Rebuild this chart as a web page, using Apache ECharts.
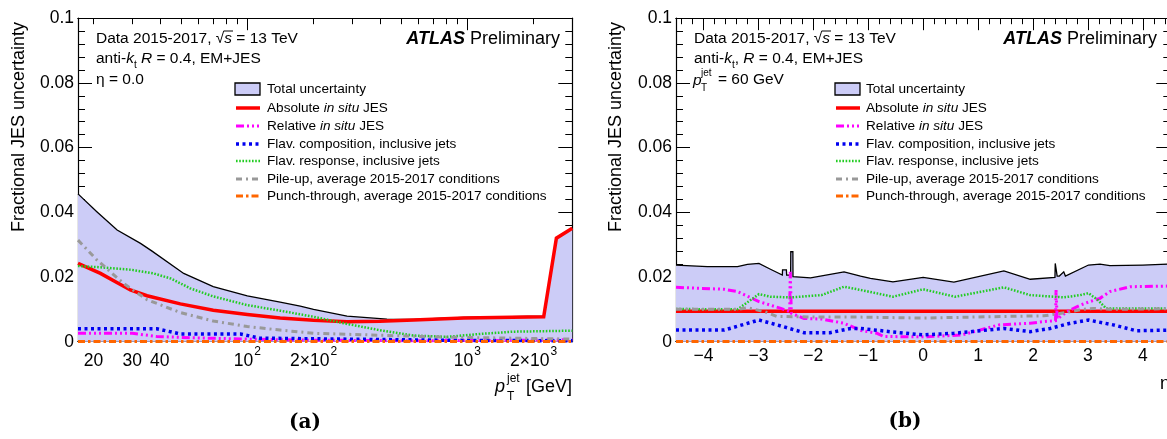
<!DOCTYPE html>
<html>
<head>
<meta charset="utf-8">
<script src="https://cdn.jsdelivr.net/npm/echarts@6/dist/echarts.min.js"></script>
<style>
html,body{margin:0;padding:0;background:#fff;}
#chart{width:1167px;height:439px;}
</style>
</head>
<body>
<div id="chart"></div>
<script>
// ---------- (a) uncertainty vs jet pT at eta = 0 : [pT (GeV), fractional uncertainty] ----------
const ptTotal = [[17,0.0457],[20.7,0.0402],[25.6,0.0345],[32.7,0.0304],[36.9,0.0280],[51.4,0.0211],[70,0.0170],[100,0.0142],[141,0.0122],[174,0.0110],[200,0.0100],[284,0.0079],[431,0.0070],[570,0.0069],[962,0.0075],[2224,0.0079],[2540,0.0321],[3000,0.0352]];
const ptAbsolute = [[17,0.0242],[21.5,0.0211],[29.4,0.0160],[35,0.0142],[49.6,0.0117],[70,0.0097],[100,0.0084],[141,0.0073],[200,0.0066],[284,0.0062],[400,0.0063],[570,0.0067],[962,0.0073],[2224,0.0077],[2540,0.0320],[3000,0.0351]];
const ptRelative = [[17,0.0026],[30,0.0026],[38.8,0.0016],[57,0.0012],[100,0.0008],[174,0.0005],[500,0.0003],[1500,0.0004],[3000,0.0006]];
const ptFlavComp = [[17,0.0040],[30,0.0040],[38.8,0.0040],[49.6,0.0024],[93,0.0024],[114,0.0011],[200,0.0009],[500,0.0006],[1000,0.0004],[3000,0.0003]];
const ptFlavResp = [[17,0.0234],[21.5,0.0230],[30,0.0222],[37.5,0.0211],[45,0.0195],[55,0.0165],[70,0.0140],[100,0.0113],[141,0.0096],[200,0.0077],[284,0.0055],[397,0.0036],[570,0.0019],[809,0.0015],[1146,0.0024],[1622,0.0031],[3000,0.0034]];
const ptPileup = [[17,0.0314],[20.7,0.0253],[27.4,0.0180],[35,0.0130],[49.6,0.0090],[70,0.0064],[100,0.0047],[141,0.0036],[200,0.0026],[400,0.0020],[800,0.0014],[1600,0.0011],[3000,0.0008]];
const ptPunch = [[17,0.0001],[100,0.0001],[1000,0.0001],[3000,0.0001]];

// ---------- (b) uncertainty vs eta at pT = 60 GeV : [eta, fractional uncertainty] ----------
const etaTotal = [[-4.5,0.0237],[-3.93,0.0232],[-3.38,0.0232],[-3.2,0.0239],[-2.99,0.0242],[-2.78,0.0224],[-2.564,0.0206],[-2.56,0.0222],[-2.49,0.0222],[-2.485,0.0206],[-2.413,0.0206],[-2.41,0.0278],[-2.372,0.0278],[-2.37,0.0201],[-2.05,0.0197],[-1.44,0.0216],[-1.14,0.0203],[-0.96,0.0196],[-0.55,0.0185],[0,0.0199],[0.56,0.0184],[1.47,0.0219],[1.95,0.0193],[2.40,0.0199],[2.405,0.0242],[2.436,0.0242],[2.44,0.0203],[2.48,0.0203],[2.56,0.0216],[2.59,0.0203],[3.01,0.0237],[3.22,0.0240],[3.4,0.0235],[4.0,0.0237],[4.5,0.0240]];
const etaAbsolute = [[-4.5,0.0094],[0,0.0094],[4.5,0.0094]];
const etaRelative = [[-4.5,0.0168],[-3.62,0.0162],[-3.38,0.0155],[-2.99,0.0124],[-2.59,0.0103],[-2.43,0.0093],[-2.42,0.0216],[-2.41,0.0216],[-2.40,0.0088],[-2.17,0.0072],[-1.85,0.0070],[-1.44,0.0057],[-1.14,0.0035],[-0.84,0.0026],[-0.72,0.0016],[0,0.0015],[0.71,0.0021],[1.38,0.0052],[1.95,0.0057],[2.19,0.0062],[2.41,0.0065],[2.42,0.0160],[2.43,0.0160],[2.44,0.0070],[2.62,0.0093],[2.86,0.0113],[3.04,0.0124],[3.22,0.0134],[3.4,0.0155],[3.77,0.0170],[4.5,0.0172]];
const etaFlavComp = [[-4.5,0.0036],[-3.62,0.0036],[-2.99,0.0067],[-2.66,0.0052],[-2.17,0.0028],[-1.69,0.0028],[-1.32,0.0041],[-1.14,0.0041],[-0.55,0.0030],[0,0.0021],[0.56,0.0026],[1.47,0.0041],[1.95,0.0031],[2.31,0.0041],[2.68,0.0057],[3.01,0.0067],[3.46,0.0052],[3.88,0.0034],[4.5,0.0036]];
const etaFlavResp = [[-4.5,0.0101],[-3.38,0.0100],[-2.99,0.0147],[-2.78,0.0139],[-2.41,0.0137],[-1.85,0.0144],[-1.44,0.0170],[-1.14,0.0160],[-0.55,0.0139],[0,0.0162],[0.58,0.0139],[1.47,0.0168],[1.95,0.0144],[2.56,0.0137],[2.86,0.0144],[3.01,0.0150],[3.18,0.0129],[3.33,0.0103],[4.5,0.0103]];
const etaPileup = [[-4.5,0.0100],[-3.38,0.0100],[-3.2,0.0105],[-2.89,0.0093],[-2.66,0.0078],[-1.85,0.0076],[-1.14,0.0076],[0,0.0073],[1.47,0.0078],[2.2,0.0080],[2.6,0.0090],[2.9,0.0100],[3.1,0.0103],[3.4,0.0100],[4.5,0.0102]];
const etaPunch = [[-4.5,0.0001],[0,0.0001],[4.5,0.0001]];

// ---------- axis ticks ----------
const ptLabelValues = [20, 30, 40, 100, 200, 1000, 2000];
const ptLabelTexts = ['20', '30', '40', '10^2', '2×10^2', '10^3', '2×10^3'];
const ptMajorTicks = [100, 1000];
const ptMinorTicks = [20, 30, 40, 50, 60, 70, 80, 90, 200, 300, 400, 500, 600, 700, 800, 900, 2000, 3000];
const etaLabelValues = [-4, -3, -2, -1, 0, 1, 2, 3, 4];
const yLabelTexts = ['0', '0.02', '0.04', '0.06', '0.08', '0.1'];

const legendLabels = ['Total uncertainty', 'Absolute {i|in situ} JES', 'Relative {i|in situ} JES',
  'Flav. composition, inclusive jets', 'Flav. response, inclusive jets',
  'Pile-up, average 2015-2017 conditions', 'Punch-through, average 2015-2017 conditions'];
const seriesNames = ['Total uncertainty', 'Absolute in situ JES', 'Relative in situ JES',
  'Flav. composition, inclusive jets', 'Flav. response, inclusive jets',
  'Pile-up, average 2015-2017 conditions', 'Punch-through, average 2015-2017 conditions'];

const FF = "'Liberation Sans', Arial, Helvetica, sans-serif";
const FILL = '#ccccf7';

// line styles of the components, in legend order (total first)
const styles = [
  {color: '#000000', width: 1.3, dash: 'solid'},
  {color: '#ff0000', width: 3.5, dash: 'solid'},
  {color: '#ff00ff', width: 3, dash: [8, 3, 2, 3, 2, 3, 2, 3]},
  {color: '#0000f0', width: 3.5, dash: [3, 3.5]},
  {color: '#22cc22', width: 2.5, dash: [1.6, 1.6]},
  {color: '#999999', width: 3, dash: [6, 4, 2, 4]},
  {color: '#ff6600', width: 3, dash: [7, 3, 2.5, 3]}
];

const ptSets = [ptTotal, ptAbsolute, ptRelative, ptFlavComp, ptFlavResp, ptPileup, ptPunch];
const etaSets = [etaTotal, etaAbsolute, etaRelative, etaFlavComp, etaFlavResp, etaPileup, etaPunch];

// eta minor ticks every 0.2 between the integer ticks
const etaMinorTicks = [];
for (let k = -22; k <= 22; k++) { if (k % 5 !== 0) etaMinorTicks.push(+(k * 0.2).toFixed(1)); }

const GRID_TOP = 18.2, GRID_H = 323.5, GRID_W = 494.3;

function ptLabelRich(v) {
  const i = ptLabelValues.indexOf(v);
  if (i < 0) return '';
  const parts = ptLabelTexts[i].split('^');
  return parts.length > 1 ? '{b|' + parts[0] + '}{s|' + parts[1] + '}' : '{b|' + parts[0] + '}';
}

function xAxisDecor(grid, type, range, pos, ticks, len) {
  return {
    type: type, gridIndex: grid, position: pos, min: range[0], max: range[1],
    logBase: 10,
    axisLine: {show: true, onZero: false, lineStyle: {color: '#000', width: 1.2}},
    axisTick: {show: true, inside: true, length: len, customValues: ticks, lineStyle: {color: '#000', width: 1}},
    axisLabel: {show: false},
    splitLine: {show: false}, minorTick: {show: false}, minorSplitLine: {show: false}
  };
}

const xAxes = [
  // (a) pT axis
  {
    type: 'log', logBase: 10, gridIndex: 0, position: 'bottom', min: 17, max: 3000,
    axisLine: {show: true, onZero: false, lineStyle: {color: '#000', width: 1.2}},
    axisTick: {show: true, inside: true, length: 12, customValues: ptMajorTicks, lineStyle: {color: '#000', width: 1}},
    axisLabel: {
      show: true, customValues: ptLabelValues, margin: 4, color: '#000',
      formatter: v => ptLabelRich(Math.round(v)),
      rich: {
        b: {fontFamily: FF, fontSize: 17.5, color: '#000', lineHeight: 30},
        s: {fontFamily: FF, fontSize: 12, color: '#000', lineHeight: 30, verticalAlign: 'top', padding: [0, 0, 0, 1]}
      }
    },
    splitLine: {show: false}
  },
  xAxisDecor(0, 'log', [17, 3000], 'bottom', ptMinorTicks, 6),
  xAxisDecor(0, 'log', [17, 3000], 'top', ptMajorTicks, 12),
  xAxisDecor(0, 'log', [17, 3000], 'top', ptMinorTicks, 6),
  // (b) eta axis
  {
    type: 'value', gridIndex: 1, position: 'bottom', min: -4.5, max: 4.5,
    axisLine: {show: true, onZero: false, lineStyle: {color: '#000', width: 1.2}},
    axisTick: {show: true, inside: true, length: 12, customValues: etaLabelValues, lineStyle: {color: '#000', width: 1}},
    axisLabel: {
      show: true, customValues: etaLabelValues, margin: 5, color: '#000',
      fontFamily: FF, fontSize: 17.5,
      formatter: v => String(Math.round(v)).replace('-', '\u2212')
    },
    splitLine: {show: false}
  },
  xAxisDecor(1, 'value', [-4.5, 4.5], 'bottom', etaMinorTicks, 6),
  xAxisDecor(1, 'value', [-4.5, 4.5], 'top', etaLabelValues, 12),
  xAxisDecor(1, 'value', [-4.5, 4.5], 'top', etaMinorTicks, 6)
];

function yAxisDef(grid, pos, labels) {
  return {
    type: 'value', gridIndex: grid, position: pos, min: 0, max: 0.1, interval: 0.02,
    axisLine: {show: true, onZero: false, lineStyle: {color: '#000', width: 1.2}},
    axisTick: {show: true, inside: true, length: 14, lineStyle: {color: '#000', width: 1}},
    minorTick: {show: true, splitNumber: 5, length: 7, lineStyle: {color: '#000', width: 1}},
    axisLabel: {
      show: labels, margin: 4, color: '#000', fontFamily: FF, fontSize: 17.5,
      formatter: v => yLabelTexts[Math.round(v / 0.02)]
    },
    splitLine: {show: false}, minorSplitLine: {show: false}
  };
}

const yAxes = [yAxisDef(0, 'left', true), yAxisDef(0, 'right', false), yAxisDef(1, 'left', true), yAxisDef(1, 'right', false)];

function makeSeries(sets, xIdx, yIdx) {
  return sets.map((d, i) => {
    const st = styles[i];
    const s = {
      type: 'line', name: seriesNames[i], xAxisIndex: xIdx, yAxisIndex: yIdx,
      data: d, showSymbol: false, symbol: 'none', smooth: false, silent: true, animation: false,
      lineStyle: {color: st.color, width: st.width, type: st.dash, cap: 'butt', join: 'miter'},
      z: 2 + i
    };
    if (i === 0) s.areaStyle = {color: FILL, opacity: 1, origin: 'start'};
    return s;
  });
}

// ---------- texts and legends ----------
const richBase = {
  i: {fontFamily: FF, fontStyle: 'italic', fill: '#000'},
  sub: {fontFamily: FF, fontSize: 10, fill: '#000', verticalAlign: 'bottom', lineHeight: 22},
  n: {fontFamily: FF, fill: '#000'}
};

function txt(x, y, text, size, extra) {
  return Object.assign({
    type: 'text', x: x, y: y, silent: true,
    style: Object.assign({
      text: text, fill: '#000', fontFamily: FF, fontSize: size,
      align: 'left', verticalAlign: 'middle'
    }, (extra && extra.style) || {})
  }, (extra && extra.el) || {});
}

function richTxt(x, y, text, size, align) {
  const rich = {};
  Object.keys(richBase).forEach(k => {
    rich[k] = Object.assign({}, richBase[k]);
    if (k !== 'sub') { rich[k].fontSize = size; rich[k].lineHeight = 22; }
  });
  return {
    type: 'text', x: x, y: y, silent: true,
    style: {text: text, fill: '#000', fontFamily: FF, fontSize: size, lineHeight: 22,
      align: align || 'left', verticalAlign: 'middle', rich: rich}
  };
}

// bar of the square-root sign over the "s"
function rootBar(x) {
  return {type: 'line', silent: true, shape: {x1: x, y1: 31, x2: x + 9, y2: 31},
    style: {stroke: '#000', lineWidth: 1}};
}

function legend(x0, textX) {
  const rows = [89, 108, 126, 144, 161, 179, 196];
  const els = [];
  rows.forEach((y, i) => {
    if (i === 0) {
      els.push({type: 'rect', silent: true, shape: {x: x0, y: y - 6, width: 25, height: 12},
        style: {fill: FILL, stroke: '#000', lineWidth: 1.3}});
    } else {
      const st = styles[i];
      els.push({type: 'line', silent: true, shape: {x1: x0 + 1, y1: y, x2: x0 + 25, y2: y},
        style: {stroke: st.color, lineWidth: st.width, lineDash: st.dash === 'solid' ? null : st.dash, lineCap: 'butt'}});
    }
    els.push(richTxt(textX, y, legendLabels[i], 13.6));
  });
  return els;
}

function atlas(xRight) {
  return {
    type: 'text', x: xRight, y: 39, silent: true,
    style: {
      text: '{b|ATLAS} {n|Preliminary}', align: 'right', verticalAlign: 'middle',
      fontFamily: FF, fontSize: 18,
      rich: {
        b: {fontFamily: FF, fontSize: 18, fontWeight: 'bold', fontStyle: 'italic', fill: '#000'},
        n: {fontFamily: FF, fontSize: 18, fill: '#000'}
      }
    }
  };
}

const graphics = [].concat(
  // panel (a)
  [
    richTxt(96, 39, 'Data 2015-2017, √{i|s} = 13 TeV', 15.5),
    rootBar(224),
    richTxt(96, 59, 'anti-{i|k}{sub|t} {i|R} = 0.4, EM+JES', 15.5),
    txt(96, 80, 'η = 0.0', 15.5),
    atlas(560)
  ],
  legend(235, 267),
  [
    txt(19, 127, 'Fractional JES uncertainty', 18, {el: {rotation: Math.PI / 2}, style: {align: 'center'}}),
    txt(495, 387, 'p', 18, {style: {fontStyle: 'italic'}}),
    txt(507, 379, 'jet', 12),
    txt(507, 397, 'T', 12),
    txt(572, 387, '[GeV]', 18, {style: {align: 'right'}}),
    txt(305, 423, '(a)', 20, {style: {align: 'center', fontFamily: "'DejaVu Serif', serif", fontWeight: 'bold'}})
  ],
  // panel (b)
  [
    richTxt(694, 39, 'Data 2015-2017, √{i|s} = 13 TeV', 15.5),
    rootBar(822),
    richTxt(694, 59, 'anti-{i|k}{sub|t}, {i|R} = 0.4, EM+JES', 15.5),
    txt(693, 81, 'p', 15.5, {style: {fontStyle: 'italic'}}),
    txt(701, 73, 'jet', 10),
    txt(701, 88, 'T', 10),
    txt(718, 80, '= 60 GeV', 15.5),
    atlas(1157)
  ],
  legend(835, 866),
  [
    txt(616, 127, 'Fractional JES uncertainty', 18, {el: {rotation: Math.PI / 2}, style: {align: 'center'}}),
    txt(1170, 384, 'η', 18, {style: {align: 'right'}}),
    txt(905, 422, '(b)', 20, {style: {align: 'center', fontFamily: "'DejaVu Serif', serif", fontWeight: 'bold'}})
  ]
);

const chart = echarts.init(document.getElementById('chart'), null, {renderer: 'canvas'});
chart.setOption({
  animation: false,
  backgroundColor: '#ffffff',
  grid: [
    {left: 78, top: GRID_TOP, width: GRID_W, height: GRID_H, outerBoundsMode: 'none', containLabel: false},
    {left: 676, top: GRID_TOP, width: GRID_W, height: GRID_H, outerBoundsMode: 'none', containLabel: false}
  ],
  xAxis: xAxes,
  yAxis: yAxes,
  series: makeSeries(ptSets, 0, 0).concat(makeSeries(etaSets, 4, 2)),
  graphic: graphics
});
</script>
</body>
</html>
